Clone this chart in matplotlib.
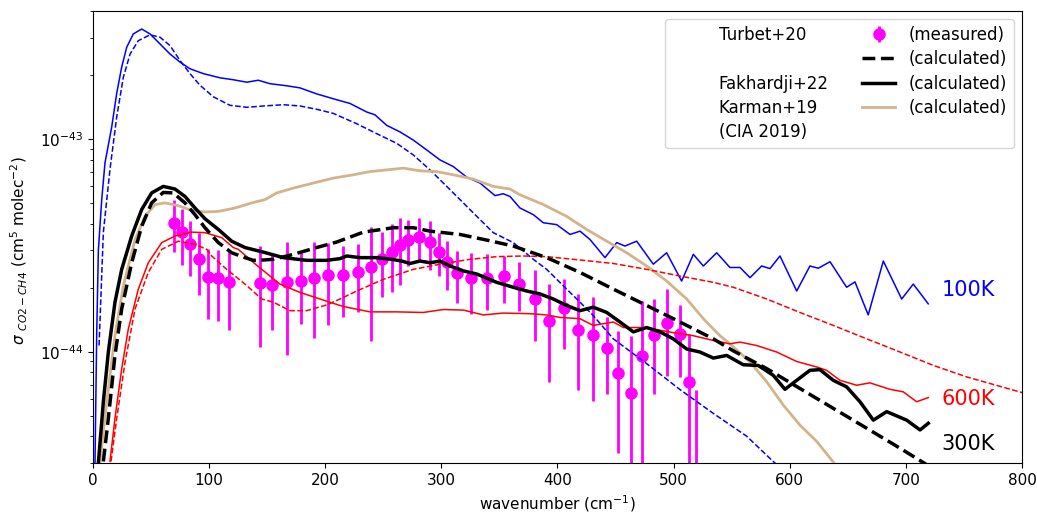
import numpy as np
import matplotlib
matplotlib.use('Agg')
import matplotlib.pyplot as plt
from matplotlib.lines import Line2D
from matplotlib.ticker import NullFormatter

# all cross sections below are in units of 1e-44 cm^5 molec^-2
unit = 1e-44

# Turbet+20 measurements (300 K)
meas_wn = [69.8, 76.9, 83.8, 91.5, 99.3, 107.6, 117.4, 143.8, 154.1, 167.1, 179.1,
           190.3, 202.3, 215.5, 228.5, 239.1, 249.1, 257.7, 264.4, 271.5, 281.0,
           290.2, 298.0, 304.6, 313.7, 325.2, 339.0, 353.9, 366.8, 380.6, 392.9,
           405.9, 417.9, 430.8, 442.4, 451.8, 463.0, 472.5, 483.1, 494.0, 505.5,
           513.5, 519.3]
meas_sig = [4.05, 3.64, 3.21, 2.72, 2.24, 2.21, 2.13, 2.10, 2.06, 2.12, 2.15,
            2.22, 2.29, 2.29, 2.37, 2.50, 2.72, 2.94, 3.16, 3.35, 3.46,
            3.28, 2.94, 2.63, 2.34, 2.21, 2.22, 2.26, 2.09, 1.77, 1.40,
            1.61, 1.26, 1.20, 1.04, 0.795, 0.641, 0.951, 1.20, 1.37, 1.21,
            0.722, 0.22]
meas_err = [1.10, 1.07, 0.93, 0.88, 0.81, 0.81, 0.86, 1.05, 0.80, 1.15, 0.80,
            1.06, 0.95, 0.84, 0.83, 1.38, 0.92, 1.03, 1.10, 0.82, 0.78,
            0.86, 0.66, 0.67, 0.65, 0.70, 0.65, 0.56, 0.54, 0.65, 0.68,
            0.58, 0.60, 0.61, 0.41, 0.46, 0.55, 0.79, 0.57, 0.60, 0.45,
            0.49, 0.44]

# Fakhardji+22, 100 K
f100_wn = [1.5, 3.2, 4.6, 7.5, 10.3, 16.1, 20.4, 24.7, 29.0, 34.7, 41.9, 49.1, 57.7,
           66.3, 74.9, 83.5, 95.0, 109.4, 120.8, 132.4, 142.3, 152.4, 166.8, 178.2,
           192.6, 209.9, 221.3, 235.7, 242.8, 252.9, 264.4, 275.8, 287.4, 298.8,
           310.3, 321.8, 333.3, 346.2, 353.3, 359.1, 367.7, 379.2, 387.8, 399.3,
           410.8, 419.4, 428.0, 440.9, 451.0, 458.1, 468.2, 482.5, 494.0, 506.9,
           517.0, 525.6, 537.1, 548.5, 557.2, 565.8, 575.8, 583.0, 591.6, 606.0,
           617.4, 624.6, 634.7, 649.0, 656.2, 667.6, 680.6, 696.4, 706.4, 719.3]
f100_sig = [0.25, 1.24, 3.0, 5.19, 7.72, 11.4, 16.4, 21.8, 27.0, 31.2, 32.9, 31.2, 28.0,
            25.1, 23.0, 21.4, 20.3, 19.4, 19.0, 18.5, 18.9, 18.2, 17.8, 17.4,
            16.3, 15.3, 14.7, 13.4, 13.0, 11.6, 10.8, 9.89, 8.88, 7.98,
            7.42, 6.62, 6.21, 5.42, 5.53, 5.37, 4.74, 4.41, 4.04, 3.96,
            3.56, 3.69, 3.37, 2.77, 3.26, 3.14, 3.31, 2.58, 2.92, 2.15,
            2.87, 2.53, 2.92, 2.49, 2.49, 2.23, 2.53, 2.46, 2.82, 1.93,
            2.53, 2.47, 2.65, 2.01, 2.13, 1.49, 2.67, 1.77, 2.08, 1.68]

# Turbet+20 calculated, 100 K
t100_wn = [5.2, 8.9, 14.6, 20.4, 26.1, 31.9, 39.0, 49.1, 57.7, 66.3, 74.9, 83.5, 92.1,
           103.6, 118.0, 132.4, 146.7, 163.9, 178.3, 192.6, 206.9, 227.1, 244.3,
           261.5, 275.8, 290.2, 304.6, 318.9, 333.3, 344.7, 361.9, 379.2, 390.7,
           407.9, 419.4, 430.8, 448.1, 476.8, 505.5, 534.2, 562.9, 585.5, 600.0]
t100_sig = [1.07, 3.64, 7.2, 12.7, 19.5, 25.1, 29.0, 30.9, 30.1, 27.5, 23.4, 20.3, 17.9,
            15.8, 14.4, 14.1, 14.3, 14.5, 14.3, 13.8, 13.2, 11.8, 10.6,
            9.55, 8.42, 7.16, 5.99, 5.01, 4.18, 3.63, 3.26, 2.72, 2.44,
            1.97, 1.71, 1.48, 1.15, 0.879, 0.664, 0.513, 0.401, 0.306, 0.26]

# Fakhardji+22, 300 K
f300_wn = [4.6, 8.9, 13.2, 18.9, 24.7, 33.3, 41.9, 50.5, 60.5, 70.6, 79.2, 87.8, 96.4,
           107.9, 119.4, 130.9, 146.7, 163.9, 184.0, 201.2, 212.7, 218.5, 229.9,
           244.3, 257.2, 265.8, 273.0, 281.6, 290.2, 298.8, 307.4, 318.9, 330.4,
           347.6, 361.9, 373.5, 384.9, 396.4, 407.9, 419.4, 430.8, 442.4, 453.8,
           465.3, 476.8, 488.3, 499.7, 511.3, 522.7, 534.2, 545.7, 560.0, 572.9,
           585.8, 595.9, 606.0, 617.4, 626.0, 637.5, 649.0, 660.5, 672.0, 683.5,
           700.7, 712.2, 719.3]
f300_sig = [0.30, 0.582, 0.997, 1.71, 2.44, 3.50, 4.66, 5.58, 5.99, 5.82, 5.37, 4.74, 4.22,
            3.76, 3.31, 3.09, 2.94, 2.77, 2.69, 2.69, 2.74, 2.82, 2.77,
            2.77, 2.72, 2.67, 2.60, 2.67, 2.62, 2.67, 2.53, 2.40, 2.32,
            2.12, 2.01, 1.93, 1.87, 1.77, 1.65, 1.56, 1.62, 1.53, 1.38,
            1.24, 1.30, 1.24, 1.15, 1.03, 0.997, 0.934, 0.961, 0.869, 0.862,
            0.775, 0.666, 0.734, 0.818, 0.824, 0.734, 0.684, 0.582, 0.477, 0.523,
            0.477, 0.429, 0.461]

# Turbet+20 calculated, 300 K
t300_wn = [8.9, 13.2, 18.9, 24.7, 33.3, 41.9, 50.5, 60.5, 69.1, 79.2, 87.8, 96.4,
           107.9, 119.4, 130.9, 138.0, 146.7, 155.3, 172.5, 192.6, 209.9, 232.8,
           258.6, 275.8, 290.2, 316.0, 339.0, 361.9, 390.7, 419.4, 448.1, 476.8,
           505.5, 534.2, 551.4, 580.2, 608.8, 637.5, 666.3, 695.0, 720.0]
t300_sig = [0.305, 0.486, 0.961, 1.59, 2.62, 3.89, 5.01, 5.61, 5.58, 5.01, 4.41, 3.83,
            3.26, 2.92, 2.77, 2.69, 2.70, 2.72, 2.87, 3.09, 3.28, 3.65,
            3.83, 3.83, 3.69, 3.56, 3.35, 3.14, 2.77, 2.36, 1.97, 1.65,
            1.38, 1.15, 1.01, 0.833, 0.672, 0.542, 0.437, 0.352, 0.29]

# Karman+19 (CIA 2019), 300 K
k300_wn = [6.0, 11.8, 18.9, 26.1, 36.2, 44.8, 53.4, 62.0, 73.5, 85.0, 96.4, 107.9,
           122.3, 136.7, 148.1, 158.2, 172.5, 189.7, 206.9, 224.2, 238.5, 252.9,
           267.2, 281.6, 296.0, 310.3, 327.5, 344.7, 359.1, 367.7, 387.8, 407.9,
           425.1, 442.4, 459.6, 476.8, 494.0, 511.3, 525.6, 539.9, 548.5, 565.8,
           580.2, 594.5, 608.8, 623.2, 636.1, 650.0]
k300_sig = [0.305, 0.582, 1.19, 2.04, 3.37, 4.33, 4.92, 5.01, 4.86, 4.62, 4.54, 4.57,
            4.74, 5.01, 5.19, 5.58, 5.88, 6.21, 6.55, 6.79, 7.03, 7.16,
            7.30, 7.09, 7.03, 6.79, 6.48, 5.99, 5.82, 5.47, 4.92, 4.33,
            3.76, 3.31, 2.92, 2.53, 2.15, 1.77, 1.43, 1.19, 1.09, 0.895,
            0.722, 0.561, 0.452, 0.379, 0.31, 0.25]

# Fakhardji+22, 600 K
f600_wn = [14.6, 18.9, 24.7, 30.4, 39.0, 47.6, 59.2, 70.6, 85.0, 96.4, 110.8, 120.8,
           125.1, 141.0, 161.0, 178.3, 195.5, 212.7, 218.5, 238.5, 261.5, 284.4,
           301.7, 318.9, 336.1, 353.3, 376.3, 390.7, 402.2, 419.4, 430.8, 448.1,
           456.7, 471.0, 482.5, 499.7, 516.9, 534.2, 548.5, 557.2, 571.5, 588.8,
           606.0, 623.2, 631.8, 643.3, 657.6, 669.1, 686.3, 697.8, 709.3, 719.3]
f600_sig = [0.305, 0.486, 0.833, 1.28, 1.97, 2.62, 3.26, 3.50, 3.65, 3.63, 3.44, 3.09,
            3.03, 2.55, 2.08, 1.90, 1.77, 1.65, 1.62, 1.54, 1.54, 1.53,
            1.58, 1.57, 1.49, 1.52, 1.51, 1.49, 1.45, 1.43, 1.33, 1.38,
            1.30, 1.30, 1.28, 1.23, 1.19, 1.13, 1.09, 1.11, 1.07, 0.997,
            0.90, 0.848, 0.818, 0.734, 0.696, 0.714, 0.666, 0.648, 0.582, 0.609]

# Turbet+20 calculated, 600 K
t600_wn = [15.5, 20.4, 27.6, 36.2, 47.6, 59.2, 73.5, 87.8, 97.9, 102.2, 115.1, 130.9,
           145.3, 155.3, 169.6, 184.0, 201.2, 212.7, 227.1, 250.0, 275.8, 298.8,
           324.6, 347.6, 370.5, 390.7, 419.4, 448.1, 476.8, 505.5, 534.2, 551.4,
           580.2, 608.8, 637.5, 666.3, 695.0, 723.6, 752.3, 800.0]
t600_sig = [0.305, 0.486, 0.895, 1.59, 2.36, 3.03, 3.31, 3.20, 3.03, 2.82, 2.44, 2.08,
            1.77, 1.71, 1.56, 1.56, 1.66, 1.77, 1.93, 2.19, 2.44, 2.58,
            2.72, 2.80, 2.82, 2.80, 2.70, 2.60, 2.44, 2.27, 2.12, 2.01,
            1.77, 1.53, 1.33, 1.15, 0.997, 0.863, 0.762, 0.643]

# temperature labels: text, colour, position (wavenumber, sigma)
temp_labels = [('100K', 'blue', 731, 1.95), ('600K', 'red', 731, 0.600),
               ('300K', 'black', 731, 0.368)]


def s(v):
    return np.array(v) * unit


fig = plt.figure(figsize=(10.37, 5.15), dpi=100)
ax = fig.add_axes([0.0897, 0.101, 0.8958, 0.8777])

meas = ax.errorbar(meas_wn, s(meas_sig), yerr=s(meas_err), fmt='o', color='magenta',
                   ms=8, elinewidth=2, capsize=0, zorder=2)

ax.plot(f100_wn, s(f100_sig), color='blue', lw=1.1, zorder=3)
ax.plot(t100_wn, s(t100_sig), color='blue', lw=1.1, ls='--', zorder=3)
ax.plot(k300_wn, s(k300_sig), color='tan', lw=2, zorder=3)
ax.plot(f600_wn, s(f600_sig), color='red', lw=1.1, zorder=3)
ax.plot(t600_wn, s(t600_sig), color='red', lw=1.1, ls='--', zorder=3)
ax.plot(f300_wn, s(f300_sig), color='black', lw=2.5, zorder=4)
ax.plot(t300_wn, s(t300_sig), color='black', lw=2.5, ls='--', zorder=4)

for txt, col, xt, yt in temp_labels:
    ax.text(xt, yt * unit, txt, color=col, fontsize=15, va='center', ha='left')

ax.set_yscale('log')
ax.set_xlim(0, 800)
ax.set_ylim(3e-45, 4e-43)
ax.set_xticks(np.arange(0, 801, 100))
ax.set_yticks([1e-44, 1e-43])
minor = [m * 1e-45 for m in range(3, 10)] + [m * 1e-44 for m in range(2, 10)] + \
        [m * 1e-43 for m in range(2, 5)]
ax.set_yticks(minor, minor=True)
ax.yaxis.set_minor_formatter(NullFormatter())
ax.tick_params(labelsize=11)
ax.set_xlabel(r'wavenumber (cm$^{-1}$)', fontsize=11)
ax.set_ylabel(r'$\sigma\ _{CO2-CH4}$ (cm$^5$ molec$^{-2}$)', fontsize=11)
ax.yaxis.set_label_coords(-0.068, 0.47)

# legend: reference names in the left column, line styles in the right one
blank = Line2D([], [], linestyle='none')
dash_h = Line2D([], [], color='black', lw=2.5, ls='--')
solid_h = Line2D([], [], color='black', lw=2.5)
tan_h = Line2D([], [], color='tan', lw=2)
handles = [blank, blank, blank, blank, blank, meas, dash_h, solid_h, tan_h]
labels = ['Turbet+20', ' ', 'Fakhardji+22', 'Karman+19', '(CIA 2019)',
          '(measured)', '(calculated)', '(calculated)', '(calculated)']
ax.legend(handles, labels, ncol=2, loc='upper right', fontsize=12, labelspacing=0.38)

fig.savefig('out.png', dpi=100)
